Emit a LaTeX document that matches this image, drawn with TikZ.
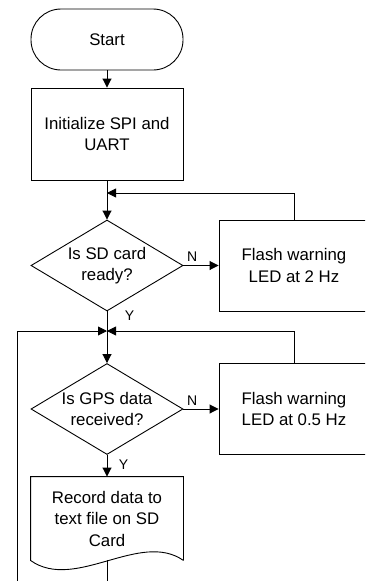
\documentclass[tikz,border=0pt]{standalone}
\usepackage{fontspec}
\setmainfont{Liberation Sans}
\usepackage{tikz}
\usetikzlibrary{shapes.geometric,arrows.meta}

\begin{document}
\begin{tikzpicture}[x=1pt, y=-1pt, line width=0.9pt,
    every node/.style={font=\fontsize{16.8}{21.5}\selectfont},
    terminal/.style={draw, rectangle, rounded corners=30pt, minimum width=152pt, minimum height=61pt, align=center},
    process/.style={draw, rectangle, minimum width=152pt, minimum height=92pt, align=center},
    warnbox/.style={draw, rectangle, minimum width=150pt, minimum height=91pt, align=center},
    decision/.style={draw, diamond, inner sep=0pt, shape aspect=1.67, minimum width=152pt, minimum height=91pt, align=center},
    docbox/.style={rectangle, minimum width=152pt, minimum height=83pt, align=center},
    flow/.style={-{Triangle[length=9pt, width=9pt]}},
    answer/.style={font=\fontsize{14}{16}\selectfont}]
    \useasboundingbox (0,0) rectangle (365,581);
    \clip (0,0) rectangle (365,581);

    % Start and setup
    \node[terminal] (start) at (107,39.5) {Start};
    \node[process] (init) at (107,134) {Initialize SPI and\\UART};

    % SD card check
    \node[decision] (sdcheck) at (107,265.5) {Is SD card\\ready?};
    \node[warnbox] (led2) at (294,265.5) {Flash warning\\LED at 2 Hz};

    % GPS check
    \node[decision] (gpscheck) at (107,409) {Is GPS data\\received?};
    \node[warnbox] (led05) at (294,409) {Flash warning\\LED at 0.5 Hz};

    % Record to card
    \node[docbox] (record) at (107,518.5) {Record data to\\text file on SD\\Card};
    \draw (record.south east) -- (record.north east) -- (record.north west) -- (record.south west)
        .. controls (75,592) and (140,530) .. (record.south east);

    % Junctions and loose ends
    \coordinate (join1) at (107,193);
    \coordinate (join2) at (107,331);
    \coordinate (loopend) at (17,581);
    \coordinate (exit) at (107,581);

    % Edges
    \draw[flow] (start) -- (init);
    \draw (init) -- (join1);
    \draw[flow] (join1) -- (sdcheck);
    \draw[flow] (sdcheck) -- node[answer, above, pos=0.25] {N} (led2);
    \draw[flow] (led2.north) |- (join1);
    \draw (sdcheck) -- node[answer, right, pos=0.2, xshift=14pt] {Y} (join2);
    \draw[flow] (led05.north) |- (join2);
    \draw[flow] (loopend) |- (join2);
    \draw[flow] (join2) -- (gpscheck);
    \draw[flow] (gpscheck) -- node[answer, above, pos=0.25] {N} (led05);
    \draw[flow] (gpscheck) -- node[answer, right, pos=0.45, xshift=8pt] {Y} (record);
    \draw (record.south) -- (exit);
\end{tikzpicture}
\end{document}
